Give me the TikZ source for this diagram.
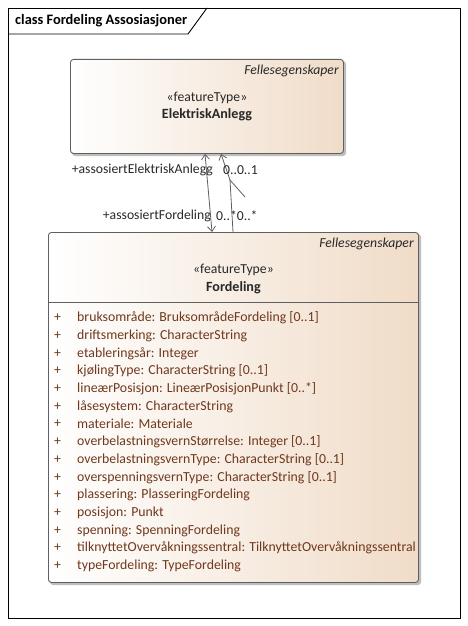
\documentclass[tikz,border=0pt]{standalone}
\usepackage{fontspec}
\setmainfont{Carlito}
\usetikzlibrary{arrows.meta,calc}
\definecolor{peach}{RGB}{240,220,200}
\definecolor{attrcol}{RGB}{112,56,28}
\definecolor{bordcol}{RGB}{95,95,95}
\definecolor{txtcol}{RGB}{40,40,40}
\definecolor{shadowcol}{RGB}{190,190,190}
\begin{document}
\begin{tikzpicture}[x=1pt,y=-1pt,
  classbox/.style={draw=bordcol, line width=0.9pt, rounded corners=3pt, inner sep=0pt,
    left color=white, right color=peach, shading angle=90},
  shadowbox/.style={fill=shadowcol, rounded corners=3pt},
  basefont/.style={font=\fontsize{13.7}{15}\selectfont, text=txtcol, inner sep=0pt},
  stereo/.style={basefont},
  cname/.style={font=\bfseries\fontsize{14.1}{16}\selectfont, text=txtcol, inner sep=0pt},
  tagtext/.style={font=\itshape\fontsize{13.7}{15}\selectfont, text=txtcol, inner sep=0pt},
  attrtext/.style={font=\fontsize{13.8}{15}\selectfont, text=attrcol, inner sep=0pt},
  lbl/.style={basefont},
  assoc/.style={draw=bordcol, line width=0.8pt},
  navtip/.tip={Straight Barb[length=5pt,width=8pt]}
]
\useasboundingbox (0,0) rectangle (468,626);
% frame
\draw[line width=0.9pt] (8,8) rectangle (460,618);
\draw[line width=0.9pt] (8,34) -- (188,34) -- (207,8);
\node[anchor=west, font=\bfseries\fontsize{14.4}{16}\selectfont, inner sep=0pt] (title) at (15,21) {class Fordeling Assosiasjoner};

% ElektriskAnlegg
\fill[shadowbox] (72,61) rectangle (346,156);
\node[classbox, minimum width=273pt, minimum height=94pt, anchor=north west] (ea) at (70,59) {};
\node[tagtext, anchor=east] (ea-tag) at ($(ea.north east)+(-5,12)$) {Fellesegenskaper};
\node[stereo] (ea-st) at ($(ea.north)+(0,39)$) {«featureType»};
\node[cname] (ea-name) at ($(ea.north)+(0,56)$) {ElektriskAnlegg};

% Fordeling
\fill[shadowbox] (50,234) rectangle (421,585);
\node[classbox, minimum width=370pt, minimum height=350pt, anchor=north west] (ford) at (48,232) {};
\node[tagtext, anchor=east] (f-tag) at ($(ford.north east)+(-5,12)$) {Fellesegenskaper};
\node[stereo] (f-st) at ($(ford.north)+(0,38)$) {«featureType»};
\node[cname] (f-name) at ($(ford.north)+(0,56)$) {Fordeling};
\draw[draw=bordcol, line width=0.9pt] (ford.west |- 0,302) coordinate (sepL) -- (ford.east |- 0,302) coordinate (sepR);

\foreach \t [count=\i] in {
  {bruksområde: BruksområdeFordeling [0..1]},
  {driftsmerking: CharacterString},
  {etableringsår: Integer},
  {kjølingType: CharacterString [0..1]},
  {lineærPosisjon: LineærPosisjonPunkt [0..*]},
  {låsesystem: CharacterString},
  {materiale: Materiale},
  {overbelastningsvernStørrelse: Integer [0..1]},
  {overbelastningsvernType: CharacterString [0..1]},
  {overspenningsvernType: CharacterString [0..1]},
  {plassering: PlasseringFordeling},
  {posisjon: Punkt},
  {spenning: SpenningFordeling},
  {tilknyttetOvervåkningssentral: TilknyttetOvervåkningssentral},
  {typeFordeling: TypeFordeling}} {
  \node[attrtext] (p\i) at (57.5,{318+17.7*(\i-1)}) {+};
  \node[attrtext, anchor=west] (a\i) at (77,{318+17.7*(\i-1)}) {\t};
}

% connectors
\coordinate (e1) at ($(ea.south west)+(135,0)$);
\coordinate (f1) at ($(ford.north west)+(164,0)$);
\coordinate (e2) at ($(ea.south west)+(151,0)$);
\coordinate (f2) at ($(ford.north west)+(185,0)$);
\coordinate (k2) at (230,180);
\coordinate (s2) at (245,197);
\draw[assoc, navtip-navtip] (e1) -- (f1);
\draw[assoc, -navtip] (f2) -- (k2) -- (e2);
\draw[assoc] (k2) -- (s2);

\node[lbl, anchor=east] (l1) at (213,170) {+assosiertElektriskAnlegg};
\node[lbl, anchor=west] (l2) at (223,170) {0..0..1};
\node[lbl, anchor=east] (l3) at (211,216) {+assosiertFordeling};
\node[lbl, anchor=west] (l4) at (216,216) {0..*0..*};
\end{tikzpicture}
\end{document}
